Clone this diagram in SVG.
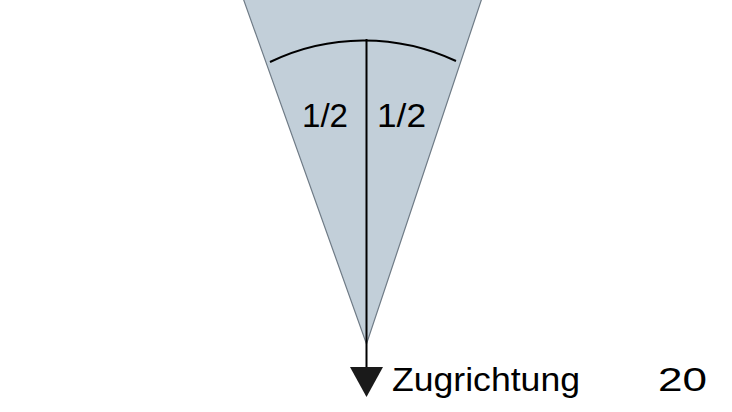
<svg xmlns="http://www.w3.org/2000/svg" width="732" height="412" viewBox="0 0 732 412">
<style>
.t{font-family:"Liberation Sans","Open Sans",sans-serif;font-size:34px;fill:#000}
.ln{stroke:#000;stroke-width:2;fill:none}
</style>
<rect width="732" height="412" fill="#fff"/>
<g id="cone">
<polygon points="243,-2 482,-2 366.5,344" fill="#c2cfd9" stroke="#6f7b86" stroke-width="1.2"/>
</g>
<g id="connectors">
<path class="ln" d="M270,62 A216,216 0 0 1 456,61"/>
<line class="ln" x1="366.5" y1="39" x2="366.5" y2="368"/>
<polygon points="350,367 383,367 366.5,397" fill="#1a1a1a"/>
</g>
<g id="labels">
<text class="t" x="302" y="127" textLength="46" lengthAdjust="spacingAndGlyphs">1/2</text>
<text class="t" x="377" y="127" textLength="49" lengthAdjust="spacingAndGlyphs">1/2</text>
<text class="t" x="392" y="391" textLength="188" lengthAdjust="spacingAndGlyphs">Zugrichtung</text>
<text class="t" x="658" y="391" textLength="49" lengthAdjust="spacingAndGlyphs">20</text>
</g>
</svg>
